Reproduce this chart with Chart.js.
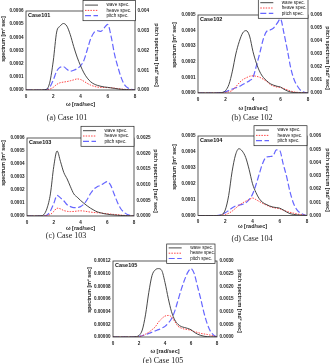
<!DOCTYPE html>
<html><head><meta charset="utf-8">
<style>
html,body{margin:0;padding:0;background:#fff;}
body{width:331px;height:363px;position:relative;overflow:hidden;}
canvas{position:absolute;}
.cap{position:absolute;font-family:"Liberation Serif","Times New Roman",serif;font-size:8px;color:#222;white-space:nowrap;transform:translate(-50%,-50%);}
</style>
<script src="https://cdn.jsdelivr.net/npm/chart.js@4"></script>
</head><body>
<script>
// ---- data ----
const omega = [0,0.25,0.5,0.75,1,1.25,1.5,1.75,2,2.25,2.5,2.75,3,3.25,3.5,3.75,4,4.25,4.5,4.75,5,5.25,5.5,5.75,6,6.25,6.5,6.75,7,7.25,7.5,7.75,8];
const caseNames = ["Case101","Case102","Case103","Case104","Case105"];
const captions = ["(a)  Case  101","(b)  Case  102","(c)  Case  103","(d)  Case  104","(e)  Case  105"];
const seriesLabels = ["wave spec.","heave spec.","pitch spec."];
const xTitleText = "ω [rad/sec]";
const leftTitleText = "spectrum [m² sec]";
const rightTitleText = "pitch spectrum [rad² sec]";

const wave101 = [0,0,0,0,0,1e-6,5e-6,6e-5,2.2e-4,4.4e-4,4.85e-4,5.05e-4,4.85e-4,4.2e-4,3.3e-4,2.5e-4,1.85e-4,1.3e-4,9e-5,6.2e-5,4.5e-5,3.5e-5,2.8e-5,2.3e-5,2e-5,1.6e-5,1.2e-5,8e-6,5e-6,3e-6,2e-6,1e-6,0];
const heave101 = [0,0,0,0,0,0,2e-6,7e-6,2e-5,4.2e-5,5.5e-5,6e-5,6.4e-5,7e-5,7.7e-5,8.4e-5,8e-5,6.6e-5,5e-5,3.7e-5,2.8e-5,2.2e-5,2e-5,1.9e-5,1.8e-5,1.7e-5,1.4e-5,1e-5,7e-6,5e-6,3e-6,1e-6,0];
const pitch101 = [0,0,0,0,0,0,2e-5,1.5e-4,5e-4,9.5e-4,1.15e-3,1.18e-3,1.05e-3,9.5e-4,1e-3,1.08e-3,1.22e-3,1.5e-3,2.05e-3,2.6e-3,2.92e-3,3e-3,2.97e-3,3.15e-3,3.32e-3,2.7e-3,1.8e-3,1.15e-3,6e-4,2.5e-4,1e-4,4e-5,0];

const wave102 = [0,0,0,0,0,0,0,3e-6,1.5e-5,5.5e-5,1.4e-4,2.5e-4,3.3e-4,3.85e-4,4e-4,3.65e-4,2.65e-4,1.9e-4,1.35e-4,1e-4,7.8e-5,6e-5,5e-5,4.3e-5,3.8e-5,2.4e-5,1.3e-5,6e-6,3e-6,1.5e-6,1e-6,5e-7,0];
const heave102 = [0,0,0,0,0,0,0,1e-6,3e-6,8e-6,1.7e-5,4e-5,6.5e-5,8.5e-5,9.7e-5,1.07e-4,1.1e-4,1.07e-4,1e-4,8.8e-5,7.4e-5,5.5e-5,4.4e-5,3.8e-5,3.6e-5,2.8e-5,2e-5,1.2e-5,7e-6,4e-6,2e-6,1e-6,0];
const pitch102 = [0,0,0,0,0,0,2e-5,5e-5,1e-4,2e-4,3e-4,4e-4,5e-4,6.5e-4,8e-4,9.5e-4,1.2e-3,2.1e-3,3.1e-3,4.15e-3,4.75e-3,4.85e-3,5e-3,5.35e-3,5.7e-3,4.6e-3,3.3e-3,1.9e-3,1e-3,5e-4,1.7e-4,6e-5,0];

const wave103 = [0,0,0,0,1e-6,1e-5,6e-5,1.7e-4,3.8e-4,5e-4,4.2e-4,3.35e-4,2.85e-4,2.25e-4,1.7e-4,1.45e-4,1.2e-4,9.8e-5,7.8e-5,6e-5,4.5e-5,3.2e-5,2.5e-5,1.8e-5,1.4e-5,1e-5,8e-6,6e-6,4e-6,3e-6,2e-6,1e-6,0];
const heave103 = [0,0,0,0,0,1e-6,4e-6,1.2e-5,3.5e-5,6e-5,5.5e-5,4.2e-5,3.6e-5,3.4e-5,3.5e-5,3.8e-5,4e-5,3.8e-5,3.4e-5,3e-5,2.7e-5,2.5e-5,2.3e-5,2e-5,1.7e-5,1.5e-5,1.2e-5,1e-5,7e-6,5e-6,3e-6,1e-6,0];
const pitch103 = [0,0,0,0,0,5e-6,3e-5,1.6e-4,4e-4,6.6e-4,5.8e-4,4.9e-4,3.6e-4,3e-4,2.7e-4,2.7e-4,3e-4,3.8e-4,5.3e-4,7.2e-4,8.6e-4,9.4e-4,9.8e-4,1.05e-3,1.1e-3,9.9e-4,7.2e-4,4.5e-4,2.4e-4,1.2e-4,5e-5,2e-5,0];

const wave104 = [0,0,0,0,0,0,0,5e-6,3.5e-5,1.25e-4,2.75e-4,3.8e-4,4.2e-4,4.05e-4,3.65e-4,2.9e-4,2e-4,1.45e-4,1.05e-4,8.2e-5,7e-5,6e-5,5.3e-5,5e-5,4.6e-5,3.5e-5,2.2e-5,1.2e-5,7e-6,4e-6,2e-6,1e-6,0];
const heave104 = [0,0,0,0,0,0,0,2e-6,6e-6,1.4e-5,2.7e-5,4.5e-5,6.3e-5,7.8e-5,9e-5,1e-4,1.1e-4,1e-4,8.8e-5,7.6e-5,6.6e-5,5.6e-5,5e-5,4.6e-5,4.2e-5,3.4e-5,2.6e-5,2e-5,1.5e-5,1e-5,6e-6,3e-6,0];
const pitch104 = [0,0,0,0,0,0,2e-5,8e-5,2e-4,3.8e-4,5.7e-4,7.2e-4,7.8e-4,8.4e-4,9.5e-4,1.2e-3,1.6e-3,2.3e-3,3.15e-3,3.95e-3,4.4e-3,4.45e-3,4.5e-3,4.95e-3,4.9e-3,3.9e-3,2.95e-3,1.8e-3,9.5e-4,4.5e-4,2e-4,7e-5,0];

const wave105 = [0,0,0,0,0,0,0,5e-7,2.5e-6,1.1e-5,3.5e-5,7e-5,9.7e-5,1.06e-4,1.08e-4,1.05e-4,8.6e-5,6.1e-5,4e-5,2.7e-5,2e-5,1.65e-5,1.5e-5,1.35e-5,1.15e-5,7.5e-6,4.5e-6,2.5e-6,1.2e-6,5e-7,2e-7,1e-7,0];
const heave105 = [0,0,0,0,0,0,0,0,5e-7,2e-6,4.5e-6,7.5e-6,1.15e-5,1.6e-5,2.35e-5,2.9e-5,3.3e-5,3.4e-5,3.2e-5,2.45e-5,1.7e-5,1.4e-5,1.25e-5,1.17e-5,1.05e-5,8.7e-6,7.2e-6,5.7e-6,4.8e-6,4e-6,2.8e-6,1.5e-6,0];
const pitch105 = [0,0,0,0,0,0,0,1e-5,3e-5,5e-5,9e-5,1.4e-4,1.9e-4,2.4e-4,2.9e-4,3.5e-4,4.2e-4,5.5e-4,7.2e-4,1.02e-3,1.45e-3,1.88e-3,2.25e-3,2.55e-3,2.7e-3,2.5e-3,2e-3,1.5e-3,9.5e-4,5.2e-4,2.2e-4,7e-5,0];

// axis ranges / ticks
const leftMax   = [0.0006, 0.0005, 0.0006, 0.0005, 0.00012];
const leftStep  = [0.0001, 0.0001, 0.0001, 0.0001, 0.00002];
const leftDec   = [4, 4, 4, 4, 5];
const rightMax  = [0.004, 0.006, 0.0025, 0.006, 0.003];
const rightStep = [0.001, 0.001, 0.0005, 0.001, 0.0005];
const rightDec  = [3, 3, 4, 3, 4];
const xTicks = [0, 2, 4, 6, 8];

const waveSets  = [wave101, wave102, wave103, wave104, wave105];
const heaveSets = [heave101, heave102, heave103, heave104, heave105];
const pitchSets = [pitch101, pitch102, pitch103, pitch104, pitch105];

// ---- layout (page px) ----
const layouts = [
 {canvas:[0,0,165,114],   plot:[26,11,135,90],    lTitle:[4,39],    rTitle:[156,55], xTitle:104, legend:[83,0.5,52.5,20.2],   cap:[67,117]},
 {canvas:[165,0,166,114], plot:[198,15,308,93],   lTitle:[175,45],  rTitle:[327,58], xTitle:108, legend:[258.3,-2.2,49.7,20.5], cap:[252,117]},
 {canvas:[0,118,165,116], plot:[27,138,134,216],  lTitle:[4,163],   rTitle:[155,181], xTitle:228, legend:[81,126.3,53,20],     cap:[66,235]},
 {canvas:[165,118,166,116], plot:[198,136,307,215.5], lTitle:[175,167], rTitle:[327,180], xTitle:226, legend:[254,125.7,53,20], cap:[252,238]},
 {canvas:[82,240,168,118], plot:[113,261,217,337], lTitle:[90,290],  rTitle:[239,301], xTitle:351, legend:[166.7,244,48.3,19.5], cap:[163,360]}
];

const FAM = '"Liberation Sans", Arial, sans-serif';
Chart.defaults.font.family = FAM;
Chart.defaults.color = '#222';

const decor = {
  id: 'decor',
  afterDraw(chart, args, opts) {
    const ctx = chart.ctx, a = chart.chartArea;
    ctx.save();
    ctx.strokeStyle = '#333'; ctx.lineWidth = 0.8; ctx.setLineDash([]);
    ctx.strokeRect(a.left, a.top, a.right - a.left, a.bottom - a.top);
    // vertical axis titles
    ctx.fillStyle = '#222'; ctx.font = 'bold 5.3px ' + FAM;
    ctx.textAlign = 'center'; ctx.textBaseline = 'middle';
    ctx.save(); ctx.translate(opts.lt[0], opts.lt[1]); ctx.rotate(-Math.PI / 2); ctx.fillText(leftTitleText, 0, 0); ctx.restore();
    ctx.save(); ctx.translate(opts.rt[0], opts.rt[1]); ctx.rotate(Math.PI / 2); ctx.fillText(rightTitleText, 0, 0); ctx.restore();
    // case label
    ctx.fillStyle = '#111';
    ctx.font = 'bold 5.5px ' + FAM;
    ctx.textBaseline = 'middle'; ctx.textAlign = 'left';
    ctx.fillText(opts.caseLabel, a.left + 2, a.top + 4.5);
    // legend
    const [lx, ly, lw, lh] = opts.legend;
    ctx.fillStyle = '#fff'; ctx.fillRect(lx, ly, lw, lh);
    ctx.lineWidth = 0.7; ctx.strokeStyle = '#222'; ctx.strokeRect(lx, ly, lw, lh);
    chart.data.datasets.forEach((ds, i) => {
      const y = ly + lh - 15.6 + i * 5.3;
      ctx.strokeStyle = ds.borderColor; ctx.lineWidth = ds.borderWidth;
      ctx.setLineDash(ds.borderDash || []);
      ctx.beginPath(); ctx.moveTo(lx + 2, y); ctx.lineTo(lx + 15, y); ctx.stroke();
      ctx.setLineDash([]);
      ctx.fillStyle = '#111'; ctx.font = '4.6px ' + FAM;
      ctx.fillText(ds.label, lx + 23.5, y);
    });
    ctx.restore();
  }
};

function pts(arr){ return omega.map((x, k) => ({x: x, y: arr[k]})); }

layouts.forEach((L, i) => {
  const [cx, cy, cw, ch] = L.canvas;
  const [pl, pt, pr, pb] = L.plot;
  const cv = document.createElement('canvas');
  cv.width = cw; cv.height = ch;
  cv.style.left = cx + 'px'; cv.style.top = cy + 'px';
  cv.style.width = cw + 'px'; cv.style.height = ch + 'px';
  document.body.appendChild(cv);

  const cap = document.createElement('div');
  cap.className = 'cap'; cap.textContent = captions[i];
  cap.style.left = L.cap[0] + 'px'; cap.style.top = L.cap[1] + 'px';
  document.body.appendChild(cap);

  const xTitleSize = 5.5;
  const leftW = pl - cx, rightW = cx + cw - pr, botH = cy + ch - pb;
  const xPad = cy + ch - xTitleSize * 0.6 - L.xTitle;
  const tickFont = {size: 4.6, weight: 'bold', family: FAM};

  new Chart(cv, {
    type: 'line',
    data: {
      datasets: [
        {label: seriesLabels[0], data: pts(waveSets[i]), yAxisID: 'y', borderColor: '#333333', borderWidth: 0.9, pointRadius: 0, cubicInterpolationMode: 'monotone'},
        {label: seriesLabels[1], data: pts(heaveSets[i]), yAxisID: 'y', borderColor: '#ff4545', borderWidth: 1, borderDash: [1.5, 1.2], pointRadius: 0, cubicInterpolationMode: 'monotone'},
        {label: seriesLabels[2], data: pts(pitchSets[i]), yAxisID: 'y2', borderColor: '#6666ff', borderWidth: 1.2, borderDash: [6, 2.5], pointRadius: 0, cubicInterpolationMode: 'monotone'}
      ]
    },
    options: {
      responsive: false, animation: false, devicePixelRatio: 1,
      layout: {padding: {top: pt - cy, left: 0, right: 0, bottom: 0}},
      plugins: {legend: {display: false}, tooltip: {enabled: false},
        decor: {caseLabel: caseNames[i],
                legend: [L.legend[0] - cx, L.legend[1] - cy, L.legend[2], L.legend[3]],
                lt: [L.lTitle[0] - cx, L.lTitle[1] - cy], rt: [L.rTitle[0] - cx, L.rTitle[1] - cy]}},
      scales: {
        x: {type: 'linear', min: 0, max: 8, grid: {display: false, drawTicks: false}, border: {display: false},
            afterBuildTicks: s => { s.ticks = xTicks.map(v => ({value: v})); },
            ticks: {font: tickFont, padding: 3.5, maxRotation: 0, autoSkip: false, callback: v => String(v)},
            title: {display: true, text: xTitleText, font: {size: xTitleSize, weight: 'bold', family: FAM}, padding: {top: 0, bottom: xPad}},
            afterFit: s => { s.height = botH; }},
        y: {type: 'linear', position: 'left', min: 0, max: leftMax[i], grid: {display: false, drawTicks: false}, border: {display: false},
            ticks: {font: tickFont, padding: 2.5, stepSize: leftStep[i], autoSkip: false, callback: v => Number(v).toFixed(leftDec[i])},
            title: {display: false},
            afterFit: s => { s.width = leftW; }},
        y2: {type: 'linear', position: 'right', min: 0, max: rightMax[i], grid: {display: false, drawTicks: false}, border: {display: false},
            ticks: {font: tickFont, padding: 2.5, stepSize: rightStep[i], autoSkip: false, callback: v => Number(v).toFixed(rightDec[i])},
            title: {display: false},
            afterFit: s => { s.width = rightW; }}
      }
    },
    plugins: [decor]
  });
});
</script>
</body></html>
